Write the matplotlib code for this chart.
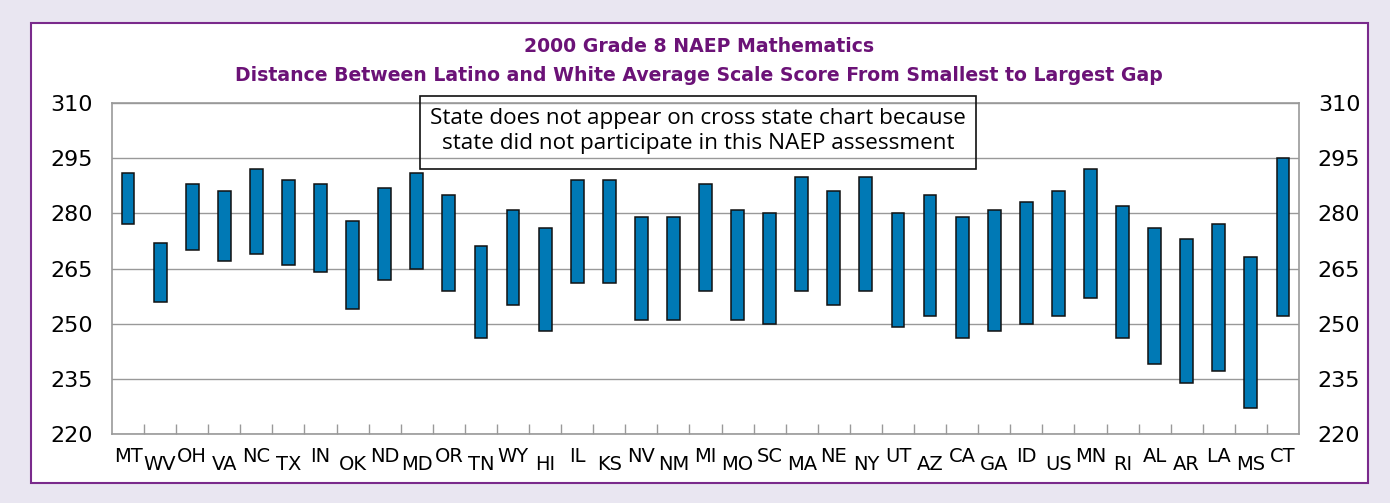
import matplotlib
matplotlib.use("Agg")
import matplotlib.pyplot as plt
import matplotlib.transforms as mtransforms
from matplotlib.patches import Rectangle
import numpy as np

states = ["MT", "WV", "OH", "VA", "NC", "TX", "IN", "OK", "ND", "MD", "OR", "TN",
          "WY", "HI", "IL", "KS", "NV", "NM", "MI", "MO", "SC", "MA", "NE", "NY",
          "UT", "AZ", "CA", "GA", "ID", "US", "MN", "RI", "AL", "AR", "LA", "MS", "CT"]
white_score = [291, 272, 288, 286, 292, 289, 288, 278, 287, 291, 285, 271,
               281, 276, 289, 289, 279, 279, 288, 281, 280, 290, 286, 290,
               280, 285, 279, 281, 283, 286, 292, 282, 276, 273, 277, 268, 295]
latino_score = [277, 256, 270, 267, 269, 266, 264, 254, 262, 265, 259, 246,
                255, 248, 261, 261, 251, 251, 259, 251, 250, 259, 255, 259,
                249, 252, 246, 248, 250, 252, 257, 246, 239, 234, 237, 227, 252]
y_ticks = [220, 235, 250, 265, 280, 295, 310]

title = ("2000 Grade 8 NAEP Mathematics\n"
         "Distance Between Latino and White Average Scale Score From Smallest to Largest Gap")
note = ("State does not appear on cross state chart because\n"
        "state did not participate in this NAEP assessment")

FONT = ["Liberation Sans Narrow", "DejaVu Sans"]
PURPLE = "#6B1277"
BLUE = "#0079B5"
GRID = "#999999"

plt.rcParams.update({"font.family": FONT})

W, H = 1390, 503
fig = plt.figure(figsize=(W / 100, H / 100), dpi=100, facecolor="#E9E6F1")

# white panel with purple frame, kept behind the axes
fig.patches.append(Rectangle((31 / W, 1 - 483 / H), (1368 - 31) / W, (483 - 23) / H,
                             transform=fig.transFigure, facecolor="white",
                             edgecolor="#7A2A8C", lw=1.5, zorder=-5))

ax = fig.add_axes([112 / W, 1 - 434 / H, (1299 - 112) / W, (434 - 103) / H])
ax.patch.set_alpha(0)
x = np.arange(len(states))
lo = np.array(latino_score)
hi = np.array(white_score)
ax.bar(x, hi - lo, bottom=lo, width=0.4, color=BLUE, edgecolor="#111111", lw=1.1, zorder=3)

ax.set_xlim(-0.5, len(states) - 0.5)
ax.set_ylim(220, 310)
ax.set_yticks(y_ticks)
ax.tick_params(axis="y", length=0, labelsize=16, pad=13.5, labelleft=True, labelright=True)
ax.grid(axis="y", color=GRID, lw=1.0, zorder=1)
for s in ax.spines.values():
    s.set_color(GRID)
    s.set_linewidth(1.2)

ax.set_xticks(x)
ax.set_xticklabels(states, fontsize=14)
ax.tick_params(axis="x", length=0, pad=9)
ax.set_xticks(np.arange(0.5, len(states) - 1, 1.0), minor=True)
ax.tick_params(axis="x", which="minor", direction="in", length=7, color=GRID, width=1.0)
down = mtransforms.ScaledTranslation(0, -8 / 100, fig.dpi_scale_trans)
for i, lab in enumerate(ax.get_xticklabels()):
    if i % 2 == 1:
        lab.set_transform(lab.get_transform() + down)

fig.text(699 / W, 1 - 61 / H, title, ha="center", va="center", color=PURPLE,
         fontsize=13.6, fontweight="bold", linespacing=1.65)

# note box
fig.patches.append(Rectangle((420 / W, 1 - 169 / H), (976 - 420) / W, (169 - 96) / H,
                             transform=fig.transFigure, facecolor="none",
                             edgecolor="#111111", lw=1.2, zorder=5))
fig.text(698 / W, 1 - 131 / H, note, ha="center", va="center", fontsize=16.2,
         family=["Open Sans", "DejaVu Sans"], linespacing=1.2, zorder=6)

fig.savefig("out.png", dpi=100, facecolor=fig.get_facecolor())
